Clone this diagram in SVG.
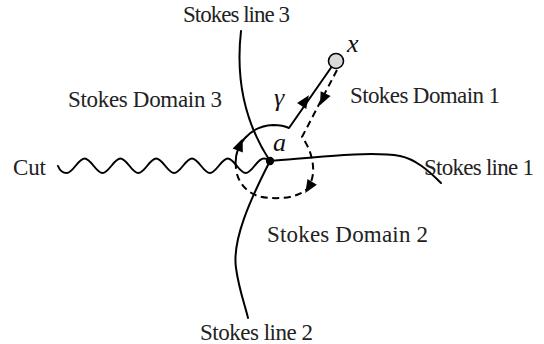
<svg xmlns="http://www.w3.org/2000/svg" width="544" height="344" viewBox="0 0 544 344">
<style>
.ln{fill:none;stroke:#000;stroke-width:2;stroke-linecap:round;stroke-linejoin:round}
.dash{fill:none;stroke:#000;stroke-width:2;stroke-dasharray:7 4.5}
.lbl{font-family:"Liberation Serif","DejaVu Serif",serif;font-size:23px;fill:#222}
.math{font-family:"Liberation Serif","DejaVu Serif",serif;font-style:italic;font-size:26px;fill:#111}
</style>
<defs>
<path id="ah" d="M7,0 L-6,-5.5 L-6,5.5 Z" fill="#000"/>
</defs>
<rect width="544" height="344" fill="#fff"/>
<g id="connectors">
<path id="stokes-line-3" class="ln" d="M241,31 C236,75 243,120 270,161"/>
<path id="stokes-line-2" class="ln" d="M270,161 C250,200 232,240 236,268 C239,290 245,305 248,318"/>
<path id="stokes-line-1" class="ln" d="M270,161 C320,157 370,151 400,156 C415,159 428,170 441,183"/>
<path id="cut" class="ln" d="M58,166 C60,171 63,173 66.7,173 C73.1,173 78.2,158.5 84.6,158.5 S96.1,173 102.5,173 S114,158.5 120.4,158.5 S131.9,173 138.3,173 S149.8,158.5 156.2,158.5 S167.7,173 174.1,173 S185.6,158.5 192,158.5 S203.5,173 209.9,173 S221.4,158.5 227.8,158.5 S239.3,173 245.7,173 S257.2,158.5 263.6,158.5 S268,160 270,161"/>
<path id="gamma" class="ln" d="M236,168 C233,145 250,126 273,125 C282,125 287,127 289,128 L331.5,67"/>
<path id="gamma-return" class="dash" d="M337,70 L302,137 C313,152 318,175 307,189 C297,199 272,200 258,196 C246,192 238,182 236,170"/>
<use href="#ah" transform="translate(305,101) rotate(-56)"/>
<use href="#ah" transform="translate(240,145) rotate(-68)"/>
<use href="#ah" transform="translate(323,99) rotate(116)"/>
<use href="#ah" transform="translate(309,187) rotate(122)"/>
</g>
<g id="node-a">
<circle cx="270" cy="161" r="4.2" fill="#000"/>
<text class="math" x="273" y="151">a</text>
</g>
<g id="node-x">
<circle cx="336" cy="61" r="7.5" fill="#d9d9d9" stroke="#000" stroke-width="1.6"/>
<text class="math" x="347" y="52">x</text>
</g>
<g id="label-gamma"><text class="math" x="274" y="106">γ</text></g>
<g id="labels">
<text class="lbl" x="183" y="22" textLength="107">Stokes line 3</text>
<text class="lbl" x="200" y="340" textLength="113">Stokes line 2</text>
<text class="lbl" x="424" y="175" textLength="110">Stokes line 1</text>
<text class="lbl" x="13" y="175" textLength="33">Cut</text>
<text class="lbl" x="68" y="107" textLength="154">Stokes Domain 3</text>
<text class="lbl" x="350" y="103" textLength="150">Stokes Domain 1</text>
<text class="lbl" x="267" y="242" textLength="161">Stokes Domain 2</text>
</g>
</svg>
